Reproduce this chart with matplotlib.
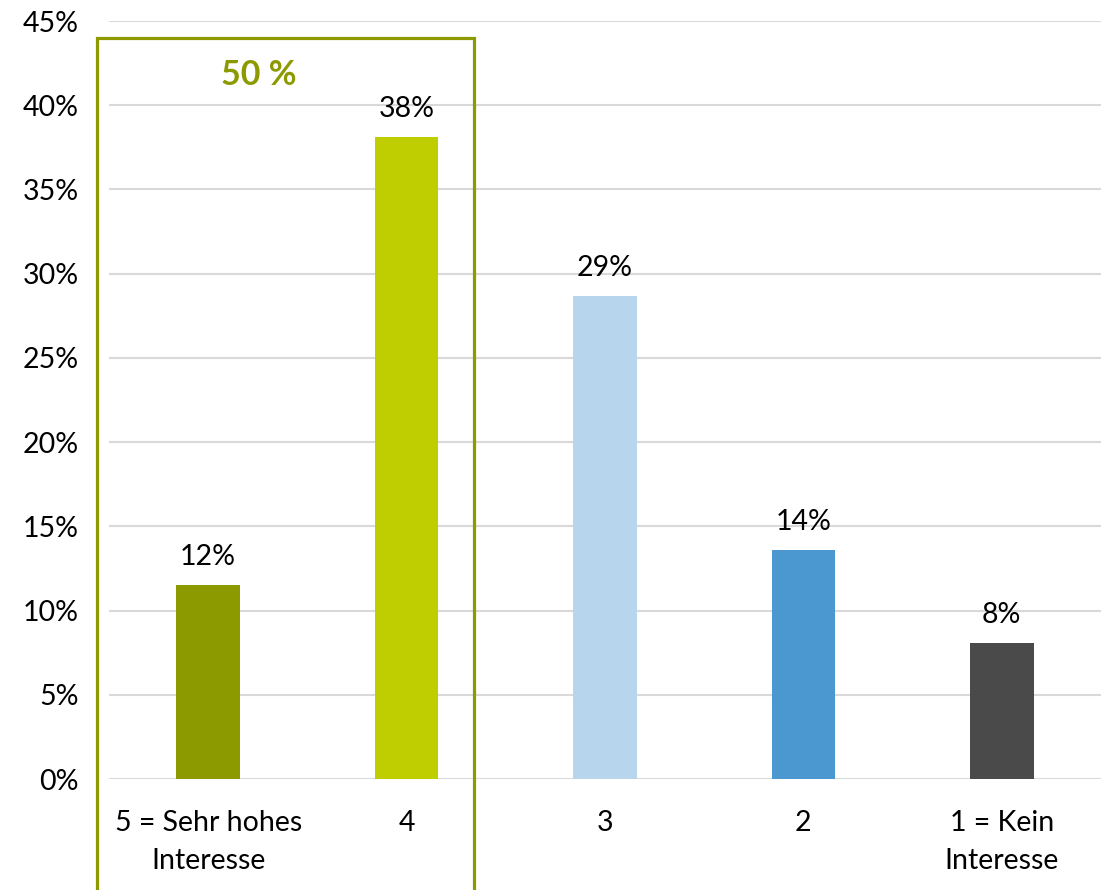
import matplotlib
matplotlib.use("Agg")
import matplotlib.pyplot as plt
from matplotlib.patches import Rectangle
from matplotlib.ticker import MultipleLocator, FuncFormatter

# Survey answers: level of interest (share of respondents, %)
categories = ["5 = Sehr hohes\nInteresse", "4", "3", "2", "1 = Kein\nInteresse"]
values = [11.5, 38.1, 28.7, 13.6, 8.1]
colors = ["#8C9A00", "#BFCE00", "#B7D5EC", "#4B97D0", "#4A4A4A"]
highlight_label = "50 %"
highlight_color = "#8C9A00"

plt.rcParams["font.family"] = ["Lato", "DejaVu Sans"]
FS = 20.5

W, H = 1107, 890
fig = plt.figure(figsize=(W / 100, H / 100), dpi=100)
ax = fig.add_axes([109 / W, (H - 779) / H, (1101 - 109) / W, (779 - 21) / H])

x = list(range(len(categories)))
bars = ax.bar(x, values, width=0.32, color=colors, zorder=3)

for xi, v in zip(x, values):
    ax.annotate(f"{v:.0f}%", (xi, v), xytext=(0, 15), textcoords="offset pixels",
                ha="center", va="bottom", fontsize=FS, color="#000000")

ax.set_xlim(-0.5, len(categories) - 0.5)
ax.set_ylim(0, 45)
ax.yaxis.set_major_locator(MultipleLocator(5))
ax.yaxis.set_major_formatter(FuncFormatter(lambda v, p: f"{v:.0f}%"))
ax.grid(axis="y", color="#D9D9D9", linewidth=1.5, zorder=0)
ax.set_axisbelow(True)
for s in ax.spines.values():
    s.set_visible(False)
ax.tick_params(axis="y", length=0, pad=22, labelsize=FS, labelcolor="#000000")
ax.tick_params(axis="x", length=0, pad=22, labelsize=FS, labelcolor="#000000")
ax.set_xticks(x)
ax.set_xticklabels(categories, linespacing=1.58)

# Frame around the two top answers
box = Rectangle((-0.56, -12), 1.9, 56.0, fill=False, edgecolor=highlight_color,
                linewidth=2.3, clip_on=False, zorder=4)
ax.add_patch(box)
ax.text(0.257, 41.8, highlight_label, ha="center", va="center", fontsize=24.5,
        fontweight="bold", color=highlight_color)

fig.savefig("out.png", dpi=100)
